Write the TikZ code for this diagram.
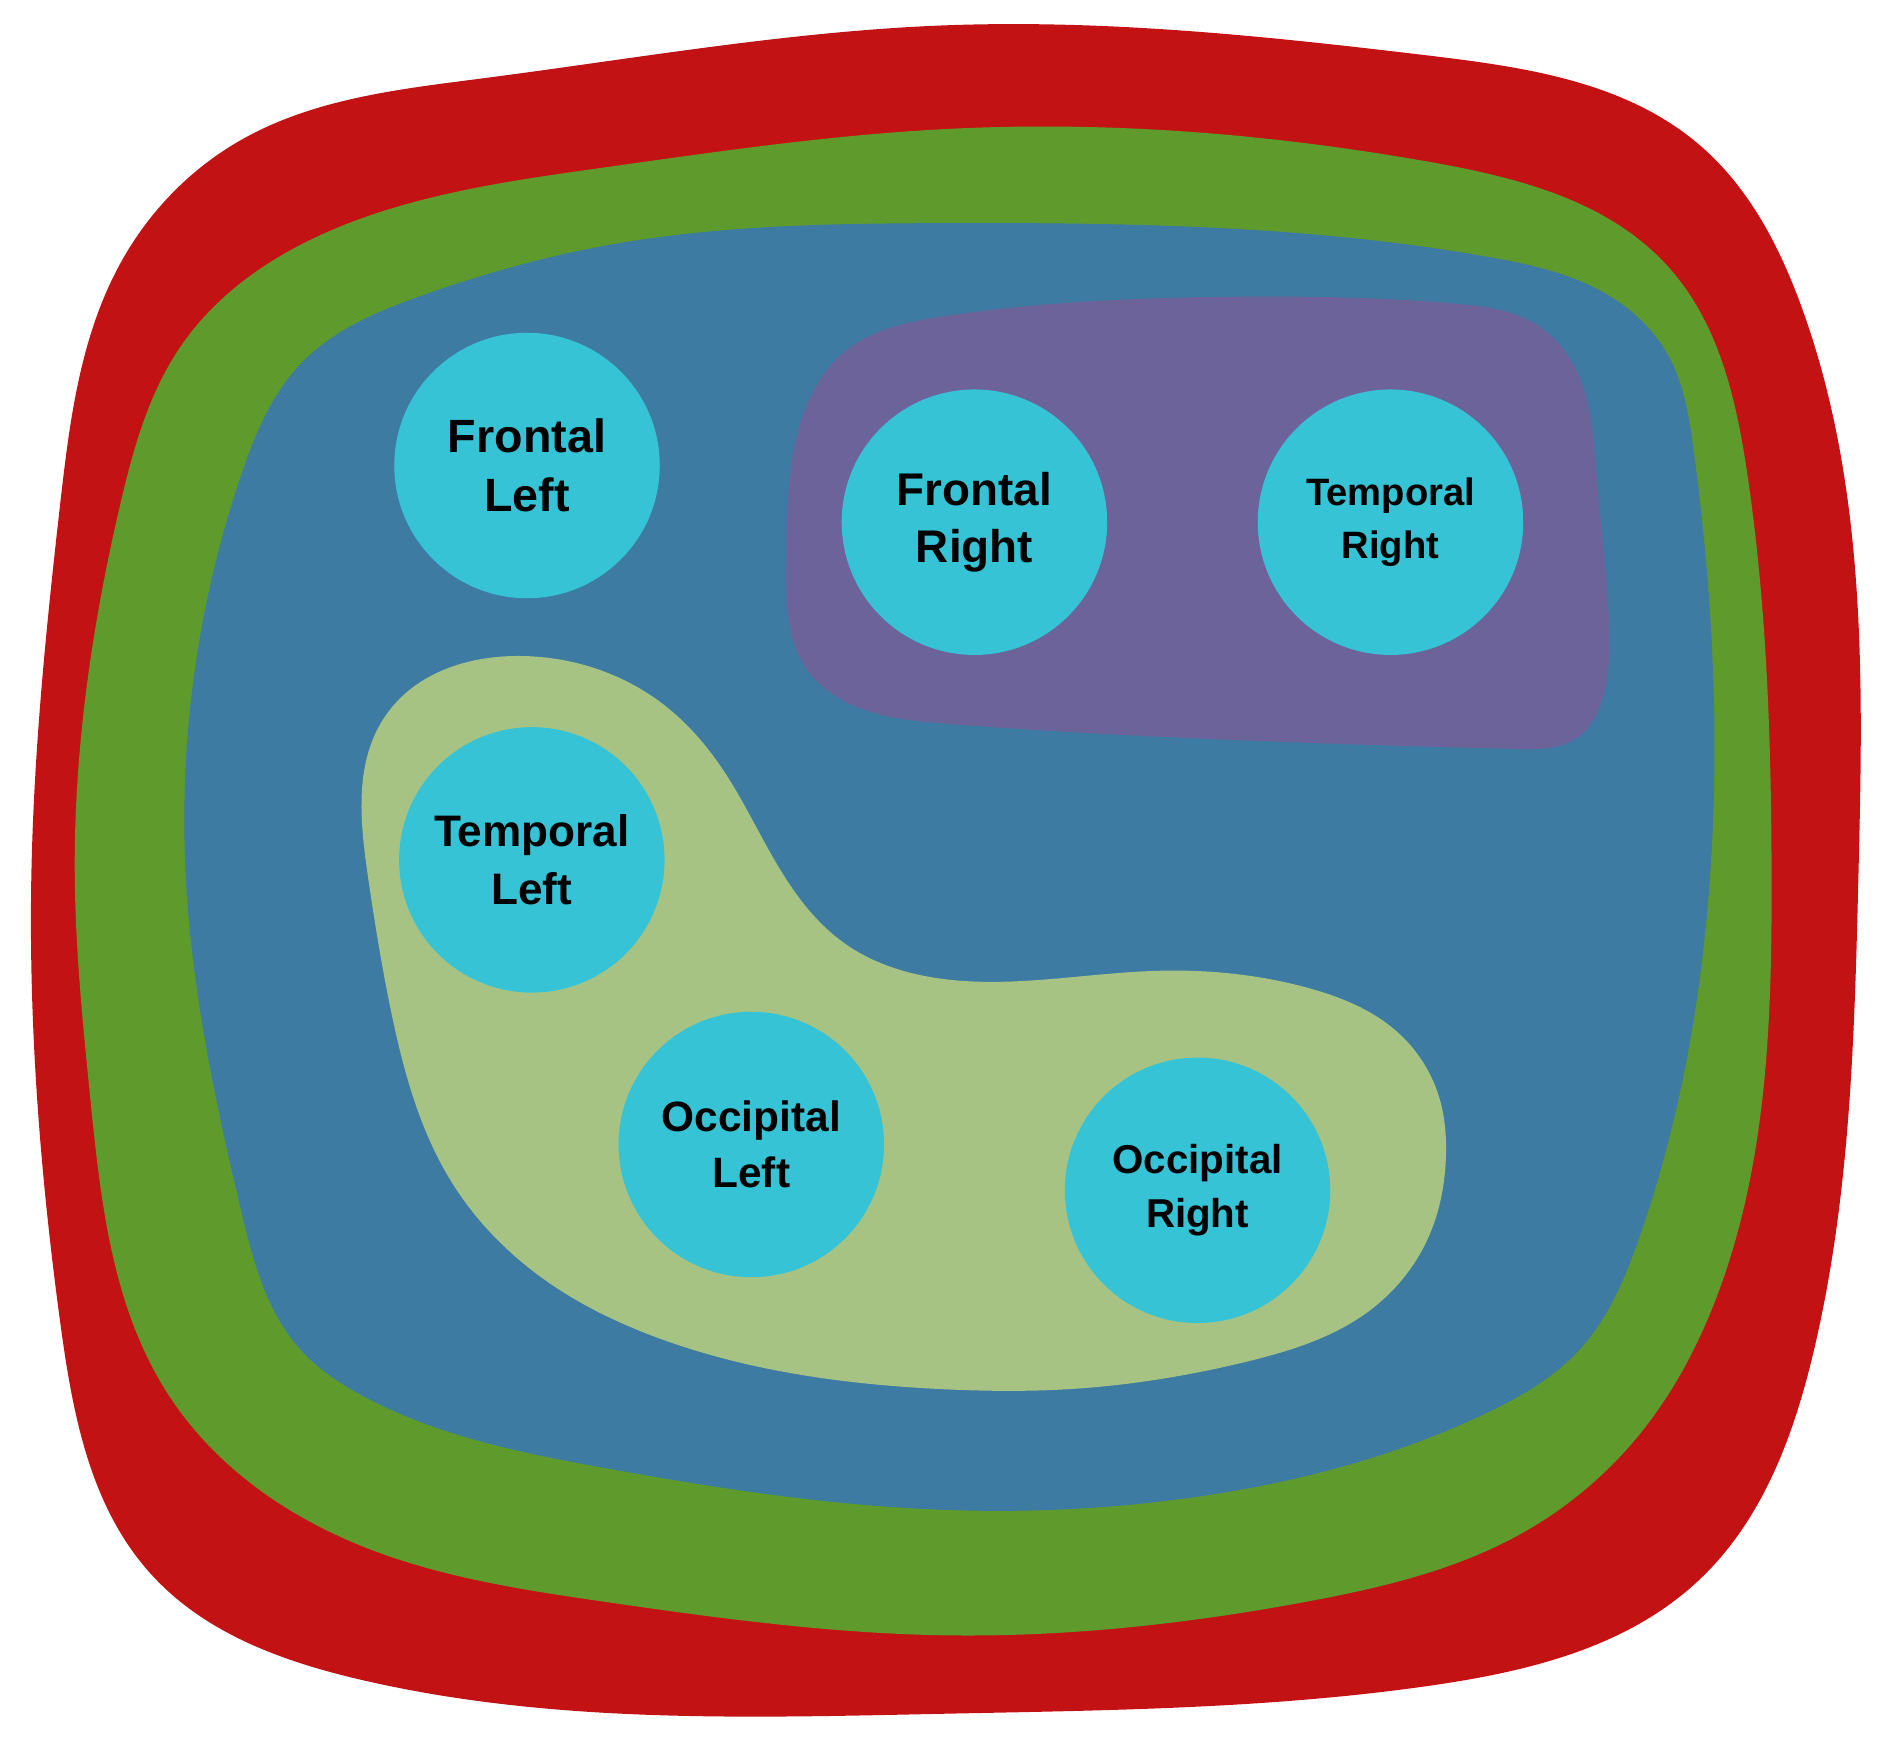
\documentclass[tikz,border=0pt]{standalone}
\usepackage{fontspec}
\setmainfont{Liberation Sans}
\usepackage{tikz}
\usetikzlibrary{hobby}
\definecolor{skull}{HTML}{C31214}
\definecolor{meninx}{HTML}{5F9A2C}
\definecolor{cortex}{HTML}{3D7BA3}
\definecolor{rightgrp}{HTML}{6C639B}
\definecolor{backgrp}{HTML}{A7C383}
\definecolor{lobecol}{HTML}{37C3D6}

\begin{document}
\begin{tikzpicture}[x=0.01cm,y=-0.01cm,
	lobe/.style={circle,fill=lobecol,minimum size=2.2cm,inner sep=0pt,align=center,font=\bfseries},
	blob/.style={use Hobby shortcut,closed=true}]
	\useasboundingbox (0,0) rectangle (1568,1454);
	% outer layers
	\fill[skull,blob] (784,21) .. (1184,46) .. (1409,120) .. (1494,255) .. (1541,726) .. (1504,1120) .. (1409,1310) .. (1184,1398) .. (784,1421) .. (300,1393) .. (125,1305) .. (50,1097) .. (26,726) .. (50,417) .. (100,218) .. (200,116) .. (400,65);
	\fill[meninx,blob] (784,107) .. (1184,134) .. (1384,222) .. (1449,394) .. (1469,726) .. (1424,1074) .. (1359,1190) .. (1259,1273) .. (1084,1328) .. (784,1356) .. (500,1328) .. (300,1282) .. (140,1157) .. (75,912) .. (62,726) .. (100,417) .. (150,287) .. (300,181) .. (500,139);
	\fill[cortex,blob] (784,185) .. (1234,213) .. (1334,245) .. (1384,296) .. (1404,371) .. (1418,726) .. (1359,1027) .. (1309,1120) .. (1234,1171) .. (1000,1240) .. (784,1252) .. (500,1217) .. (300,1157) .. (250,1120) .. (200,1004) .. (154,726) .. (165,533) .. (200,394) .. (250,301) .. (350,245) .. (500,204);
	% groups
	\fill[rightgrp,blob] (784,262) .. (1034,246) .. (1209,252) .. (1274,269) .. (1304,301) .. (1324,394) .. (1334,509) .. (1329,579) .. (1309,611) .. (1259,621) .. (1034,614) .. (784,600) .. (715,588) .. (670,556) .. (652,463) .. (665,347) .. (700,292);
	\fill[backgrp,blob] (435,544) .. (550,584) .. (600,639) .. (650,726) .. (700,782) .. (784,812) .. (959,805) .. (1084,819) .. (1159,856) .. (1194,912) .. (1199,958) .. (1184,1027) .. (1134,1088) .. (1034,1129) .. (884,1152) .. (784,1152) .. (550,1111) .. (450,1060) .. (375,981) .. (325,842) .. (305,726) .. (320,593);
	% lobes
	\node[lobe,font=\bfseries\fontsize{11}{14}\selectfont] (fl) at (437,386) {Frontal\\Left};
	\node[lobe,font=\bfseries\fontsize{10.8}{13.6}\selectfont] (fr) at (808,433) {Frontal\\Right};
	\node[lobe,font=\bfseries\fontsize{9}{12.5}\selectfont] (tr) at (1153,433) {Temporal\\Right};
	\node[lobe,font=\bfseries\fontsize{10.4}{13.6}\selectfont] (tl) at (441,713) {Temporal\\Left};
	\node[lobe,font=\bfseries\fontsize{10}{13.3}\selectfont] (ol) at (623,949) {Occipital\\Left};
	\node[lobe,font=\bfseries\fontsize{9.5}{12.8}\selectfont] (or) at (993,987) {Occipital\\Right};
\end{tikzpicture}
\end{document}
